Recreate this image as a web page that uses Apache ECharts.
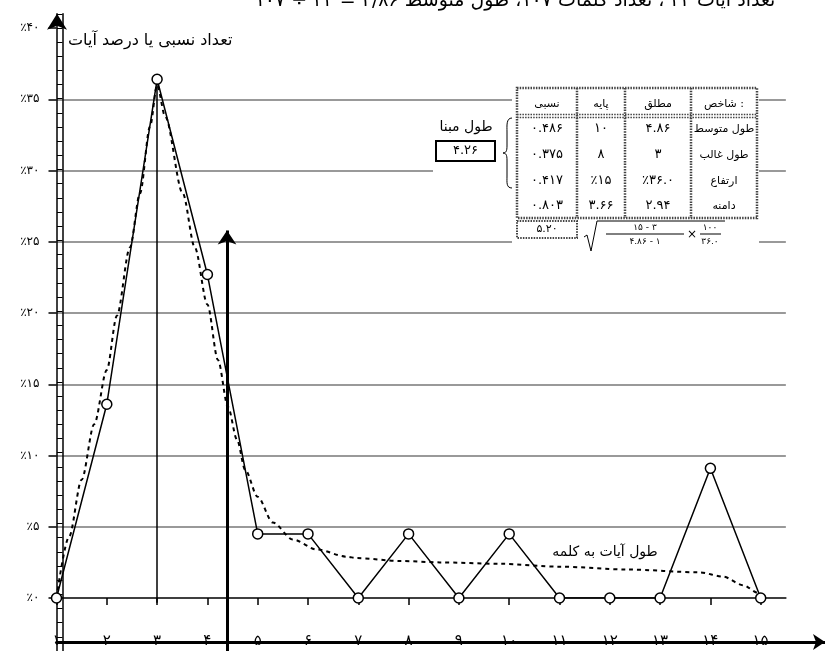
<!DOCTYPE html>
<html><head><meta charset="utf-8">
<script src="https://cdn.jsdelivr.net/npm/echarts@6/dist/echarts.min.js"></script>
<style>html,body{margin:0;padding:0;background:#fff}#c{width:825px;height:651px}</style>
</head><body><div id="c"></div>
<script>
// ---- data ----
const categories = [1,2,3,4,5,6,7,8,9,10,11,12,13,14,15];
const relativeCount = [0, 13.6, 36.4, 22.7, 4.5, 4.5, 0, 4.5, 0, 4.5, 0, 0, 0, 9.1, 0];
const trendX = [1, 1.25, 1.5, 1.75, 2, 2.2, 2.46, 2.66, 2.86, 3, 3.16, 3.51, 3.75, 4, 4.21, 4.41, 4.59, 4.75, 5, 5.3, 5.7, 6.18, 6.77, 6.97, 7.83, 8.62, 9.82, 11, 12.34, 13.79, 14.25, 14.65, 14.95, 15];
const trendY = [0, 4.3, 8.3, 12.2, 16.0, 19.8, 24.6, 28.4, 33.1, 36.0, 33.8, 28.4, 24.6, 20.6, 16.7, 13.4, 11.1, 9.0, 7.1, 5.3, 4.1, 3.4, 2.9, 2.8, 2.6, 2.5, 2.4, 2.2, 2.0, 1.8, 1.5, 0.9, 0.35, 0];
const yTickValues = [0,5,10,15,20,25,30,35,40];
const arrowX = 4.39;      // position of the vertical arrow on the x scale
const arrowTop = 25.7;    // top of the vertical arrow on the y scale

const titleText = 'تعداد آیات ۲۲ ، تعداد کلمات ۱۰۷، طول متوسط ۴/۸۶ = ۲۲ ÷ ۱۰۷';
const yName = 'تعداد نسبی یا درصد آیات';
const trendName = 'طول آیات به کلمه';
const baseLabel = 'طول مبنا';
const baseValue = '4.26';
const tableHeader = ['نسبی', 'پایه', 'مطلق', 'شاخص :'];
const rowLabels = ['طول متوسط', 'طول غالب', 'ارتفاع', 'دامنه'];
const absValues = ['4.86', '3', '٪36.0', '2.94'];
const baseValues = ['10', '8', '٪15', '3.66'];
const relValues = ['0.486', '0.375', '0.417', '0.803'];
const relSum = '5.20';
const formulaNum1 = '15 - 3', formulaDen1 = '4.86 - 1', formulaNum2 = '100', formulaDen2 = '36.0';

// ---- helpers ----
const fa = s => String(s).replace(/[0-9]/g, d => '۰۱۲۳۴۵۶۷۸۹'[d]);
const FONT = 'DejaVu Sans';
const Z = 100;
function txt(x, y, text, size, align) {
  return {type:'text', x:x, y:y, z:Z, silent:true,
    style:{text:text, fontSize:size, fontFamily:FONT, fill:'#000', align:align||'center', verticalAlign:'middle'}};
}
function line(x1, y1, x2, y2, w, dash, color) {
  return {type:'line', z:Z, silent:true, shape:{x1:x1,y1:y1,x2:x2,y2:y2},
    style:{stroke:color||'#000', lineWidth:w||1, lineDash:dash||null}};
}
function curve(x1, y1, c1x, c1y, c2x, c2y, x2, y2) {
  return {type:'bezierCurve', z:Z, silent:true,
    shape:{x1:x1, y1:y1, cpx1:c1x, cpy1:c1y, cpx2:c2x, cpy2:c2y, x2:x2, y2:y2},
    style:{stroke:'#000', lineWidth:1, fill:null}};
}
const DOT = [1.5, 1.2];

const gfx = [];
// white covers that interrupt the gridlines
gfx.push({type:'rect', z:Z, silent:true, shape:{x:433, y:112, width:84, height:84}, style:{fill:'#fff'}});
gfx.push({type:'rect', z:Z, silent:true, shape:{x:512, y:86, width:247, height:170}, style:{fill:'#fff'}});
// table
const tL = 517, tR = 757, tT = 88, tB = 218, hB = 116;
const colX = [577, 625, 691];
const colC = [547, 601, 658, 724];
const rowC = [129, 155, 181, 206];
gfx.push({type:'rect', z:Z, silent:true, shape:{x:tL, y:tT, width:tR-tL, height:tB-tT},
  style:{fill:'#fff', stroke:'#444', lineWidth:2.5, lineDash:DOT}});
gfx.push(line(tL, hB-1.5, tR, hB-1.5, 1.5, DOT, '#444'));
gfx.push(line(tL, hB+1.5, tR, hB+1.5, 1.5, DOT, '#444'));
colX.forEach(x => gfx.push(line(x, tT, x, tB, 2.5, DOT, '#444')));
tableHeader.forEach((h, i) => gfx.push(txt(colC[i], 104, h, 11)));
rowLabels.forEach((r, i) => {
  gfx.push(txt(colC[3], rowC[i], r, 11));
  gfx.push(txt(colC[2], rowC[i], fa(absValues[i]), 13));
  gfx.push(txt(colC[1], rowC[i], fa(baseValues[i]), 13));
  gfx.push(txt(colC[0], rowC[i], fa(relValues[i]), 13));
});
// sum box
gfx.push({type:'rect', z:Z, silent:true, shape:{x:517, y:221, width:60, height:17},
  style:{fill:'#fff', stroke:'#444', lineWidth:2, lineDash:DOT}});
gfx.push(txt(547, 229.5, fa(relSum), 11));
// formula
gfx.push({type:'polyline', z:Z, silent:true, shape:{points:[[584,237],[587,235],[591,251],[597,221],[725,221]]},
  style:{stroke:'#000', lineWidth:1, fill:null}});
gfx.push(txt(645, 227.5, fa(formulaNum1), 9));
gfx.push(line(606, 234, 684, 234, 1));
gfx.push(txt(645, 242, fa(formulaDen1), 9));
gfx.push(txt(692, 235, '×', 12));
gfx.push(txt(710, 227.5, fa(formulaNum2), 9));
gfx.push(line(700, 234, 721, 234, 1));
gfx.push(txt(710, 242, fa(formulaDen2), 9));
// base length label + box + brace
gfx.push(txt(466, 127, baseLabel, 14));
gfx.push({type:'rect', z:Z, silent:true, shape:{x:436, y:141, width:59, height:20},
  style:{fill:'#fff', stroke:'#000', lineWidth:2}});
gfx.push(txt(465.5, 151, fa(baseValue), 13));
gfx.push(curve(512, 118, 506, 118, 507, 126, 507, 132));
gfx.push(line(507, 132, 507, 146, 1));
gfx.push(curve(507, 146, 507, 151, 506, 153, 503, 153));
gfx.push(curve(503, 153, 506, 153, 507, 155, 507, 160));
gfx.push(line(507, 160, 507, 176, 1));
gfx.push(curve(507, 176, 507, 182, 506, 188, 512, 188));
// titles
gfx.push(txt(515, 1, titleText, 19));
gfx.push(txt(68, 41, yName, 16, 'left'));
gfx.push(txt(605, 552, trendName, 14));

const option = {
  animation: false,
  backgroundColor: '#fff',
  grid: [
    {left: 56.5, top: 28, width: 729.35, height: 570},
    {left: 56.5, top: 641, width: 768.5, height: 1},
    {left: 56.5, top: 13.75, width: 729.35, height: 641.25}
  ],
  xAxis: [
    {gridIndex:0, type:'value', min:1, max:15.5, interval:1,
      axisLine:{onZero:false, lineStyle:{color:'#000', width:1.5}},
      axisTick:{customValues:categories, length:7, lineStyle:{color:'#000', width:1.5}},
      axisLabel:{show:false}, splitLine:{show:false}},
    {gridIndex:1, type:'value', min:1, max:16.28, interval:1, position:'bottom',
      axisLine:{onZero:false, symbol:['none','arrow'], symbolSize:[12,12], lineStyle:{color:'#000', width:3}},
      axisTick:{show:false},
      axisLabel:{customValues:categories, formatter:v => fa(v), margin:-8, fontFamily:FONT, fontSize:15, color:'#000'},
      splitLine:{show:false}},
    {gridIndex:2, type:'value', min:1, max:15.5, show:false}
  ],
  yAxis: [
    {gridIndex:0, type:'value', position:'left', min:0, max:40, interval:5,
      axisLine:{show:false},
      axisTick:{show:true, length:8, lineStyle:{color:'#000', width:1.5}},
      axisLabel:{customValues:yTickValues, formatter:v => '٪' + fa(v), margin:17, fontFamily:FONT, fontSize:12, color:'#000'},
      splitLine:{show:true, lineStyle:{color:['transparent','#999','#999','#999','#999','#999','#999','#999','transparent'], width:2}}},
    {gridIndex:1, type:'value', show:false},
    {gridIndex:2, type:'value', position:'left', min:-4, max:41, interval:1, offset:-0.5,
      axisLine:{show:true, onZero:false, symbol:['none','arrow'], symbolSize:[15,16], lineStyle:{color:'#000', width:1.5}},
      axisTick:{show:true, inside:true, length:5.5, lineStyle:{color:'#000', width:1}},
      axisLabel:{show:false}, splitLine:{show:false}},
    {gridIndex:2, type:'value', position:'left', min:-4, max:41, offset:-6,
      axisLine:{show:true, onZero:false, lineStyle:{color:'#000', width:1.5}},
      axisTick:{show:false}, axisLabel:{show:false}, splitLine:{show:false}}
  ],
  series: [
    {type:'line', name:'trend', xAxisIndex:0, yAxisIndex:0, z:2,
      data: trendX.map((x, i) => [x, trendY[i]]),
      showSymbol:false, smooth:0.3, smoothMonotone:'x',
      lineStyle:{color:'#000', width:2, type:[4,4]}, silent:true},
    {type:'line', name:'count', xAxisIndex:0, yAxisIndex:0, z:3,
      data: categories.map((c, i) => [c, relativeCount[i]]),
      symbol:'circle', symbolSize:10, showSymbol:true,
      itemStyle:{color:'#fff', borderColor:'#000', borderWidth:1.5},
      lineStyle:{color:'#000', width:1.5}, silent:true},
    {type:'line', name:'helper', xAxisIndex:2, yAxisIndex:2, data:[], silent:true,
      markLine:{silent:true, symbol:['none','none'], label:{show:false}, animation:false,
        data:[
          [{coord:[categories[2], relativeCount[2] - 0.35], lineStyle:{color:'#000', width:1.5, type:'solid'}},
           {coord:[categories[2], -0.6]}],
          [{coord:[arrowX, -4], lineStyle:{color:'#000', width:3, type:'solid'}},
           {coord:[arrowX, arrowTop], symbol:'arrow', symbolSize:[14,14]}]
        ]}}
  ],
  graphic: {elements: gfx}
};
const chart = echarts.init(document.getElementById('c'), null, {renderer:'canvas'});
chart.setOption(option);
</script></body></html>
